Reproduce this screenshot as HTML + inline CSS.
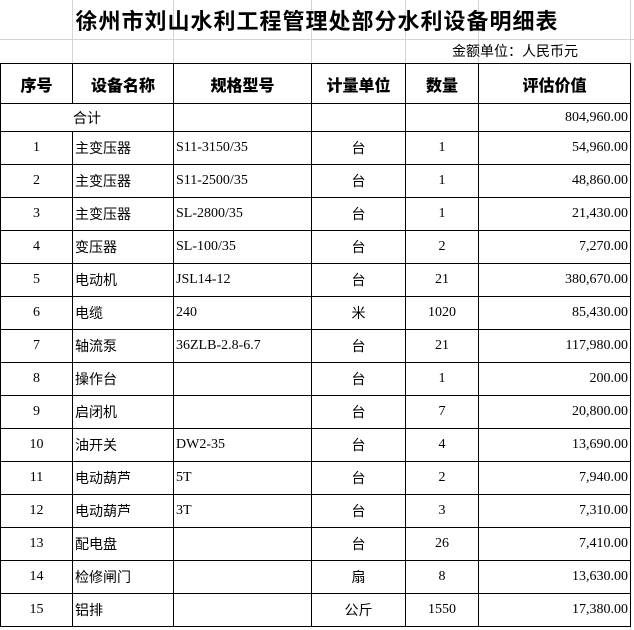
<!DOCTYPE html>
<html><head><meta charset="utf-8"><style>
body{margin:0;width:634px;height:630px;background:#fff;overflow:hidden;position:relative;font-family:"Liberation Serif","Noto Sans CJK SC",serif;}
.g{position:absolute;background:#d4d4d4;}
table{position:absolute;left:0;top:63px;border-collapse:collapse;table-layout:fixed;}
td{border:1px solid #000;padding:0 2px;font-size:14px;line-height:16px;height:32px;box-sizing:border-box;white-space:nowrap;overflow:hidden;}
tr{height:33px}
tr.t{height:28px} tr.t td{height:28px}
th{border:1px solid #000;font-family:"Noto Sans CJK SC",sans-serif;font-weight:900;font-size:16px;line-height:18px;height:40px;box-sizing:border-box;padding:0;}
.c{text-align:center}.r{text-align:right}
.z{font-family:"Noto Sans CJK SC",sans-serif;}
</style></head><body>
<div class="g" style="left:72px;top:0;width:1px;height:63px"></div>
<div class="g" style="left:173px;top:0;width:1px;height:63px"></div>
<div class="g" style="left:311px;top:0;width:1px;height:63px"></div>
<div class="g" style="left:405px;top:0;width:1px;height:63px"></div>
<div class="g" style="left:478px;top:0;width:1px;height:63px"></div>
<div class="g" style="left:630px;top:0;width:1px;height:630px"></div>
<div class="g" style="left:0;top:39px;width:634px;height:1px"></div>
<div style="position:absolute;left:0;top:5px;width:634px;text-align:center;font-family:'Noto Sans CJK SC',sans-serif;font-weight:bold;font-size:22px;line-height:30px;letter-spacing:1px">徐州市刘山水利工程管理处部分水利设备明细表</div>
<div style="position:absolute;left:452px;top:43px;font-family:'Noto Sans CJK SC',sans-serif;font-size:14px;line-height:16px">金额单位：人民币元</div>
<table>
<colgroup><col style="width:72px"><col style="width:101px"><col style="width:138px"><col style="width:94px"><col style="width:73px"><col style="width:152px"></colgroup>
<tr style="height:40px"><th>序号</th><th>设备名称</th><th>规格型号</th><th>计量单位</th><th>数量</th><th>评估价值</th></tr>
<tr class="t"><td colspan="2" class="c z">合计</td><td></td><td></td><td></td><td class="r">804,960.00</td></tr>
<tr><td class="c">1</td><td class="z">主变压器</td><td>S11-3150/35</td><td class="c z">台</td><td class="c">1</td><td class="r">54,960.00</td></tr>
<tr><td class="c">2</td><td class="z">主变压器</td><td>S11-2500/35</td><td class="c z">台</td><td class="c">1</td><td class="r">48,860.00</td></tr>
<tr><td class="c">3</td><td class="z">主变压器</td><td>SL-2800/35</td><td class="c z">台</td><td class="c">1</td><td class="r">21,430.00</td></tr>
<tr><td class="c">4</td><td class="z">变压器</td><td>SL-100/35</td><td class="c z">台</td><td class="c">2</td><td class="r">7,270.00</td></tr>
<tr><td class="c">5</td><td class="z">电动机</td><td>JSL14-12</td><td class="c z">台</td><td class="c">21</td><td class="r">380,670.00</td></tr>
<tr><td class="c">6</td><td class="z">电缆</td><td>240</td><td class="c z">米</td><td class="c">1020</td><td class="r">85,430.00</td></tr>
<tr><td class="c">7</td><td class="z">轴流泵</td><td>36ZLB-2.8-6.7</td><td class="c z">台</td><td class="c">21</td><td class="r">117,980.00</td></tr>
<tr><td class="c">8</td><td class="z">操作台</td><td></td><td class="c z">台</td><td class="c">1</td><td class="r">200.00</td></tr>
<tr><td class="c">9</td><td class="z">启闭机</td><td></td><td class="c z">台</td><td class="c">7</td><td class="r">20,800.00</td></tr>
<tr><td class="c">10</td><td class="z">油开关</td><td>DW2-35</td><td class="c z">台</td><td class="c">4</td><td class="r">13,690.00</td></tr>
<tr><td class="c">11</td><td class="z">电动葫芦</td><td>5T</td><td class="c z">台</td><td class="c">2</td><td class="r">7,940.00</td></tr>
<tr><td class="c">12</td><td class="z">电动葫芦</td><td>3T</td><td class="c z">台</td><td class="c">3</td><td class="r">7,310.00</td></tr>
<tr><td class="c">13</td><td class="z">配电盘</td><td></td><td class="c z">台</td><td class="c">26</td><td class="r">7,410.00</td></tr>
<tr><td class="c">14</td><td class="z">检修闸门</td><td></td><td class="c z">扇</td><td class="c">8</td><td class="r">13,630.00</td></tr>
<tr><td class="c">15</td><td class="z">铝排</td><td></td><td class="c z">公斤</td><td class="c">1550</td><td class="r">17,380.00</td></tr>
</table>
</body></html>
